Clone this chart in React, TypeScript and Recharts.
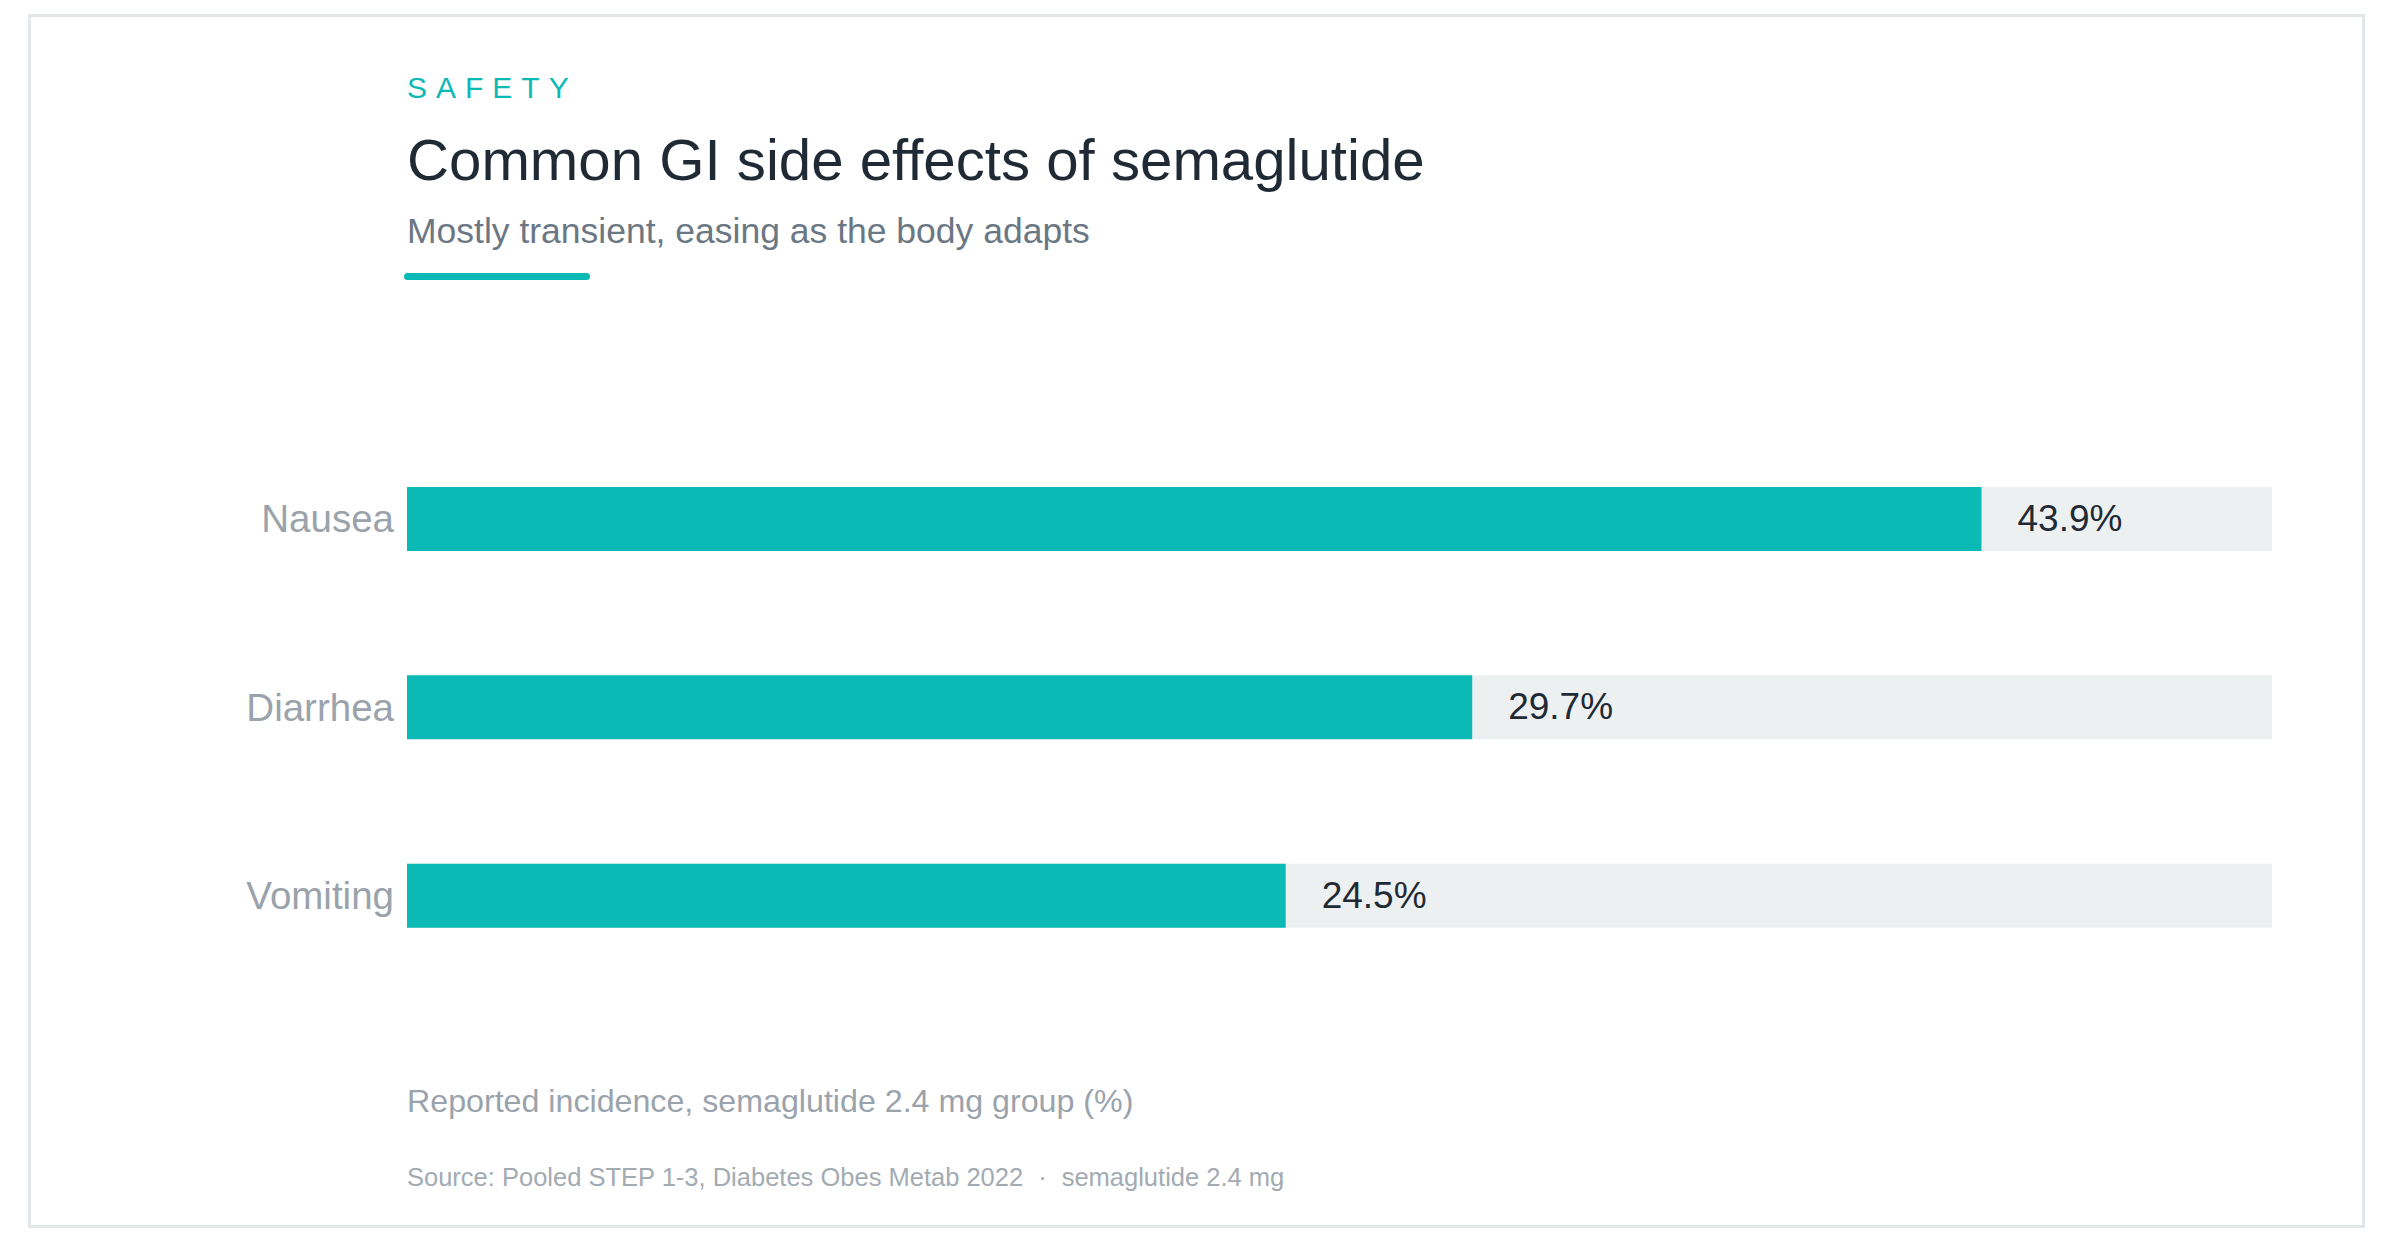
import React from 'react';
import { BarChart, Bar, XAxis, YAxis, LabelList } from 'recharts';

// GI adverse events, semaglutide 2.4 mg arm (%)
const categories = ['Nausea', 'Diarrhea', 'Vomiting'];
const incidence = [43.9, 29.7, 24.5];
const axisMax = 52;

const TEAL = '#0bbab5';
const TRACK = '#edf0f1';
const INK = '#1f2a35';
const MUTED = '#9aa3ab';
const FONT = '"Helvetica Neue", Helvetica, Arial, "Liberation Sans", sans-serif';

const data = categories.map((name, i) => ({ name, value: incidence[i] }));

const CategoryTick = (props: any) => {
  const { x, y, payload } = props;
  return (
    <text x={x} y={y + 13} textAnchor="end" fill={MUTED} fontSize={38.5} fontFamily={FONT}>
      {payload.value}
    </text>
  );
};

const ValueLabel = (props: any) => {
  const { x, y, width, height, value } = props;
  return (
    <text
      x={Number(x) + Number(width) + 36}
      y={Number(y) + Number(height) / 2 + 12}
      fill={INK}
      fontSize={37}
      fontFamily={FONT}
    >
      {`${Number(value).toFixed(1)}%`}
    </text>
  );
};

const text = (top: number, size: number, color: string, extra: React.CSSProperties = {}) =>
  ({
    position: 'absolute',
    left: 407,
    top,
    fontSize: size,
    lineHeight: `${size}px`,
    color,
    fontFamily: FONT,
    whiteSpace: 'nowrap',
    ...extra,
  }) as React.CSSProperties;

export default function App() {
  return (
    <div style={{ position: 'absolute', left: 0, top: 0, width: 2392, height: 1242, background: '#fff' }}>
      <div
        style={{
          position: 'absolute',
          left: 28,
          top: 14,
          width: 2337,
          height: 1214,
          border: '3px solid #e4e7ea',
          boxSizing: 'border-box',
        }}
      />

      <div style={text(73, 30, TEAL, { letterSpacing: 9 })}>SAFETY</div>
      <div style={text(131, 58.2, INK)}>Common GI side effects of semaglutide</div>
      <div style={text(214, 35.5, '#6b7783')}>Mostly transient, easing as the body adapts</div>
      <div
        style={{
          position: 'absolute',
          left: 404,
          top: 273,
          width: 186,
          height: 7,
          borderRadius: 4,
          background: TEAL,
        }}
      />

      <div style={{ position: 'absolute', left: 0, top: 0 }}>
        <BarChart
          width={2392}
          height={1242}
          data={data}
          layout="vertical"
          margin={{ top: 425, right: 120, bottom: 252, left: 0 }}
          barSize={64}
        >
          <XAxis type="number" domain={[0, axisMax]} hide />
          <YAxis
            type="category"
            dataKey="name"
            width={407}
            axisLine={false}
            tickLine={false}
            tickSize={0}
            tickMargin={13}
            tick={<CategoryTick />}
          />
          <Bar dataKey="value" fill={TEAL} background={{ fill: TRACK }} isAnimationActive={false}>
            <LabelList dataKey="value" content={<ValueLabel />} />
          </Bar>
        </BarChart>
      </div>

      <div style={text(1085, 32.2, MUTED)}>Reported incidence, semaglutide 2.4 mg group (%)</div>
      <div style={text(1165, 25.5, '#a3abb2')}>
        Source: Pooled STEP 1-3, Diabetes Obes Metab 2022
        <span style={{ margin: '0 15px' }}>·</span>
        semaglutide 2.4 mg
      </div>
    </div>
  );
}
